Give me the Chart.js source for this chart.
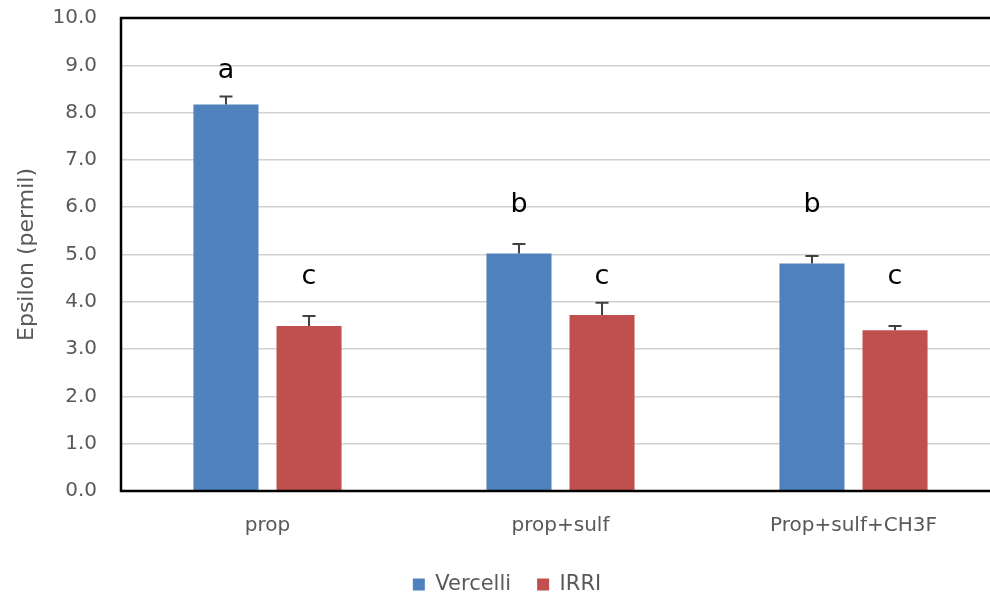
<!DOCTYPE html>
<html>
<head>
<meta charset="utf-8">
<script src="https://cdn.jsdelivr.net/npm/chart.js@4/dist/chart.umd.min.js"></script>
<style>
  html, body { margin: 0; padding: 0; background: #fff; overflow: hidden; }
  #wrap { width: 1000px; height: 605px; }
</style>
</head>
<body>
<div id="wrap"><canvas id="myChart"></canvas></div>
<script>
// data
var categories = ['prop', 'prop+sulf', 'Prop+sulf+CH3F'];
var vercelli = [8.17, 5.02, 4.81];
var vercelliErr = [0.17, 0.20, 0.16];
var irri = [3.49, 3.72, 3.40];
var irriErr = [0.21, 0.26, 0.09];
var vercelliLetters = ['a', 'b', 'b'];
var irriLetters = ['c', 'c', 'c'];
// height (in axis units) where each letter sits
var vercelliLetterAt = [8.87, 6.05, 6.05];
var irriLetterAt = [4.52, 4.52, 4.52];

var FONT = "'DejaVu Sans', sans-serif";
var GREY = '#595959';

// error bars, significance letters, and the black frame
const extras = {
    id: 'extras',
    afterDatasetsDraw(chart) {
        const ctx = chart.ctx;
        const y = chart.scales.y;
        const errs = [vercelliErr, irriErr];
        const letters = [vercelliLetters, irriLetters];
        const letterAt = [vercelliLetterAt, irriLetterAt];
        ctx.save();
        chart.data.datasets.forEach((ds, i) => {
            const meta = chart.getDatasetMeta(i);
            meta.data.forEach((bar, j) => {
                const top = y.getPixelForValue(ds.data[j] + errs[i][j]);
                const base = y.getPixelForValue(ds.data[j]);
                ctx.strokeStyle = '#404040';
                ctx.lineWidth = 2;
                ctx.beginPath();
                ctx.moveTo(bar.x, base);
                ctx.lineTo(bar.x, top);
                ctx.moveTo(bar.x - 6.5, top);
                ctx.lineTo(bar.x + 6.5, top);
                ctx.stroke();

                ctx.fillStyle = '#000';
                ctx.font = '27px ' + FONT;
                ctx.textAlign = 'center';
                ctx.textBaseline = 'middle';
                ctx.fillText(letters[i][j], bar.x, y.getPixelForValue(letterAt[i][j]));
            });
        });
        const a = chart.chartArea;
        ctx.strokeStyle = '#000';
        ctx.lineWidth = 2.5;
        ctx.strokeRect(a.left, a.top, a.right - a.left + 4, a.bottom - a.top);
        ctx.restore();
    }
};

var ctx = document.getElementById('myChart').getContext('2d');
var chart = new Chart(ctx, {
    type: 'bar',
    data: {
        labels: categories,
        datasets: [{
            label: 'Vercelli',
            data: vercelli,
            backgroundColor: '#4F81BD',
            categoryPercentage: 0.567,
            barPercentage: 0.783
        }, {
            label: 'IRRI',
            data: irri,
            backgroundColor: '#C0504D',
            categoryPercentage: 0.567,
            barPercentage: 0.783
        }]
    },
    options: {
        responsive: true,
        maintainAspectRatio: false,
        animation: false,
        layout: { padding: { top: 18, left: 14, right: 0, bottom: 0 } },
        plugins: {
            tooltip: { enabled: false },
            legend: {
                position: 'bottom',
                labels: {
                    boxWidth: 12,
                    boxHeight: 12,
                    padding: 26,
                    color: GREY,
                    font: { family: FONT, size: 21 }
                }
            }
        },
        scales: {
            x: {
                grid: { display: false },
                border: { display: false },
                ticks: { color: GREY, font: { family: FONT, size: 20 }, padding: 15 },
                afterFit(scale) { scale.height = 57; }
            },
            y: {
                min: 0,
                max: 10,
                ticks: {
                    stepSize: 1,
                    color: GREY,
                    padding: 24,
                    font: { family: FONT, size: 20 },
                    callback: v => v.toFixed(1)
                },
                grid: { color: '#d0d0d0', lineWidth: 1.5, drawTicks: false },
                border: { display: false },
                title: {
                    display: true,
                    text: 'Epsilon (permil)',
                    color: GREY,
                    font: { family: FONT, size: 22 },
                    padding: 0
                },
                afterFit(scale) {
                    scale.width = 107;
                    scale.paddingTop = 0;
                    scale.paddingBottom = 0;
                }
            }
        }
    },
    plugins: [extras]
});
</script>
</body>
</html>
